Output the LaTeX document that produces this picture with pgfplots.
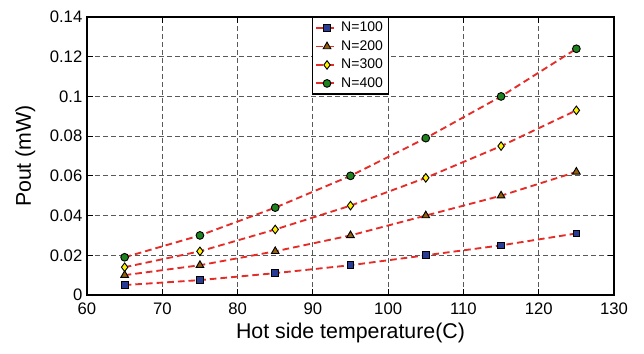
\documentclass[border=0pt]{standalone}
\usepackage{pgfplots}
\pgfplotsset{compat=1.18}
\usepackage{fontspec}
\setmainfont{Liberation Sans}
\definecolor{lred}{RGB}{228,45,40}
\definecolor{mblue}{RGB}{40,60,150}
\definecolor{mbrown}{RGB}{150,95,10}
\definecolor{mgreen}{RGB}{30,130,30}
\begin{document}
\begin{tikzpicture}
\begin{axis}[
  name=ax,
  scale only axis, width=395.25pt, height=208.5pt,
  xmin=60, xmax=130, ymin=0, ymax=0.14,
  xtick={60,70,...,130},
  ytick={0,0.02,0.04,0.06,0.08,0.1,0.12,0.14},
  yticklabels={0,0.02,0.04,0.06,0.08,0.1,0.12,0.14},
  /pgf/number format/assume math mode=true,
  tick label style={font=\fontsize{12.5}{14}\selectfont},
  label style={font=\fontsize{16}{18}\selectfont},
  xlabel={Hot side temperature(C)},
  ylabel={Pout (mW)},
  ylabel style={yshift=4pt},
  xticklabel style={yshift=-2.5pt},
  xlabel style={yshift=1pt},
  grid=major,
  major grid style={black!65, dashed, line width=0.6pt, dash pattern=on 3.5pt off 2.5pt},
  axis line style={line width=0.9pt},
  tick align=inside, tick style={black, line width=0.6pt},
  legend style={at={(0.5,1)}, anchor=north, draw=black, line width=0.8pt,
    font=\fontsize{10.5}{12}\selectfont, row sep=1pt, inner sep=1.5pt, inner xsep=2pt},
  legend cell align=left,
  legend image code/.code={
    \draw[#1, mark repeat=2, mark phase=2] plot coordinates {(0cm,0cm) (0.28cm,0cm) (0.56cm,0cm)};},
]
\addplot[lred, line width=1.4pt, dash pattern=on 5pt off 3pt, mark=square*, mark size=2.5pt,
  mark options={solid, draw=black, fill=mblue, line width=0.7pt}]
  coordinates {(65,0.005)(75,0.0075)(85,0.011)(95,0.015)(105,0.020)(115,0.025)(125,0.031)};
\addlegendentry{N=100}
\addplot[lred, line width=1.4pt, dash pattern=on 5pt off 3pt, mark=triangle*, mark size=3.3pt,
  mark options={solid, draw=black, fill=mbrown, line width=0.7pt}]
  coordinates {(65,0.010)(75,0.015)(85,0.022)(95,0.030)(105,0.040)(115,0.050)(125,0.062)};
\addlegendentry{N=200}
\addplot[lred, line width=1.4pt, dash pattern=on 5pt off 3pt, mark=diamond*, mark size=3.2pt,
  mark options={solid, draw=black, fill=yellow, line width=0.7pt}]
  coordinates {(65,0.014)(75,0.022)(85,0.033)(95,0.045)(105,0.059)(115,0.075)(125,0.093)};
\addlegendentry{N=300}
\addplot[lred, line width=1.4pt, dash pattern=on 5pt off 3pt, mark=*, mark size=2.9pt,
  mark options={solid, draw=black, fill=mgreen, line width=0.7pt}]
  coordinates {(65,0.019)(75,0.030)(85,0.044)(95,0.060)(105,0.079)(115,0.100)(125,0.124)};
\addlegendentry{N=400}
\end{axis}
\pgfresetboundingbox
\path[use as bounding box] ([xshift=-65.25pt,yshift=-43.5pt]ax.south west) rectangle ([xshift=22.5pt,yshift=12.75pt]ax.north east);
\end{tikzpicture}
\end{document}
